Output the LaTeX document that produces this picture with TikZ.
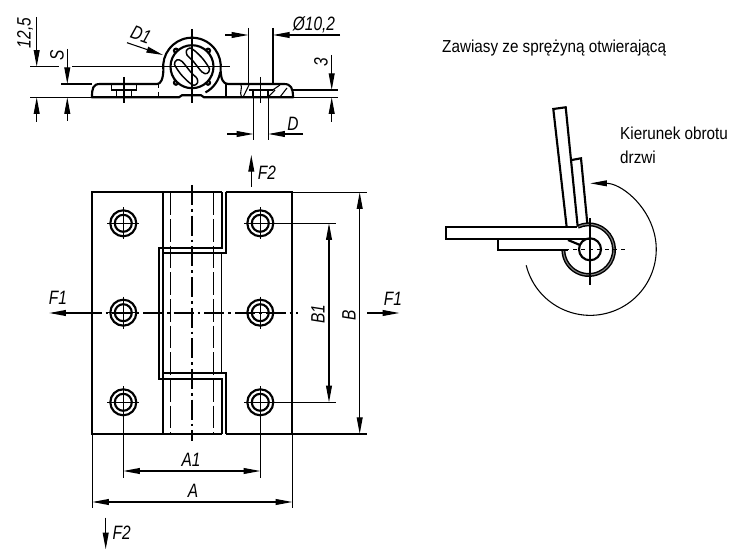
\documentclass[tikz,border=0pt]{standalone}
\usepackage{fontspec}
\setmainfont{Liberation Sans}
\usetikzlibrary{arrows.meta}
\tikzset{
  heavy/.style={line width=1.6pt},
  thin line/.style={line width=0.8pt},
  centre/.style={line width=0.8pt,dash pattern=on 15pt off 3pt on 2pt off 3pt},
  hidden/.style={line width=0.8pt,dash pattern=on 17pt off 3pt},
  dimtip/.tip={Triangle[length=12.5pt,width=4.4pt]},
  dimtext/.style={font=\fontsize{14.5}{15}\selectfont\itshape,inner sep=0pt,xscale=.8,transform shape},
  plaintext/.style={font=\fontsize{13}{15}\selectfont,inner sep=0pt,anchor=west,xscale=.88,transform shape},
}
\begin{document}
\begin{tikzpicture}[x=0.75pt,y=-0.75pt]
    \useasboundingbox (0,0) rectangle (750,552);
    % top view
    \draw[heavy,line join=round] (157,84) .. controls (161,84) and (163,79) .. (163.4,70) arc[start angle=187,end angle=-7,radius=21.6pt] .. controls (221,79) and (223,84) .. (228,84) -- (284,84) .. controls (291,84) and (293,88) .. (293,97.3) -- (204,97.3) -- (201,95.2) -- (182,95.2) -- (179,97.3) -- (92,97.3) .. controls (92,88) and (93,84) .. (100,84) -- (157,84);
    \draw[heavy] (220.3,72) arc[start angle=-10,end angle=-62,radius=21.6pt];
    \foreach \ang in {45,135,225,315}
        \draw[heavy] (192,66.7) ++(\ang:17pt and -17pt) circle[radius=2];
    \draw[heavy,fill=white] (192,66.7) circle[radius=21.5];
    \foreach \ang in {0,180}
        \draw[line width=1.1pt,rotate around={\ang:(192,66.7)}] plot[smooth cycle] coordinates {(186.5,50.5) (190,48) (195,51) (203,59) (209.5,69) (207,73.5) (202,72) (193,61) (187,55)};
    \draw[thin line] (192,29) -- (192,103);
    \draw[thin line] (72,66.7) -- (230,66.7);
    \draw[thin line] (30,66.7) -- (59,66.7);
    \draw[thin line] (30,97.3) -- (92,97.3);
    \draw[thin line] (61,84) -- (92,84);
    \draw[thin line,dashed] (158.7,84) -- (158.7,97);
    \draw[heavy] (225.7,84) -- (225.7,97);
    % left screw
    \draw[thin line] (111.7,85) -- (111.7,90) -- (116.7,90) -- (116.7,97) (131.7,97) -- (131.7,90) -- (136.7,90) -- (136.7,85);
    \draw[thin line] (111.7,90) -- (136.7,90);
    \draw[thin line] (124,77) -- (124,103);
    % right screw
    \draw[thin line] (240.7,84) .. controls (243,88) and (239,92) .. (241.5,97);
    \draw[heavy] (249,90) -- (272.7,90);
    \draw[heavy] (253.3,90) -- (253.3,97) (268.3,90) -- (268.3,97);
    \draw[thin line] (243.3,96.7) -- (249,85) (268.3,97) -- (275,90) (272.7,90) -- (280,85) (280,97) -- (287,88);
    \draw[thin line] (260.7,77) -- (260.7,103);
    \draw[thin line] (293,90) -- (338,90) (293,97.3) -- (338,97.3);
    \draw[thin line] (248.3,28) -- (248.3,84) (273,28) -- (273,84);
    \draw[thin line] (253.3,97) -- (253.3,140) (268.3,97) -- (268.3,140);
    % dimensions of the top view
    \draw[thin line,-dimtip] (36.7,17) -- (36.7,66.7);
    \draw[thin line,-dimtip] (36.7,122) -- (36.7,97.3);
    \draw[thin line,-dimtip] (67.3,49) -- (67.3,84);
    \draw[thin line,-dimtip] (67.3,121) -- (67.3,97.3);
    \draw[thin line,-dimtip] (225,35) -- (248.3,35);
    \draw[thin line,-dimtip] (340,35) -- (273,35);
    \draw[thin line,-dimtip] (331.7,55) -- (331.7,90);
    \draw[thin line,-dimtip] (331.7,121.7) -- (331.7,97.3);
    \draw[thin line,-dimtip] (227,134) -- (253.3,134);
    \draw[thin line,-dimtip] (303,134) -- (268.3,134);
    \draw[thin line,-dimtip] (127,42.7) -- (163,55);
    \node[rotate=90,dimtext] (labelH) at (25,33) {12,5};
    \node[rotate=90,dimtext] (labelS) at (57,55) {S};
    \node[rotate=90,dimtext] (labelThree) at (321,62) {3};
    \node[rotate=-20,dimtext] (labelDa) at (141,35) {D1};
    \node[dimtext] (labelBore) at (314,25) {Ø10,2};
    \node[dimtext] (labelD) at (293,124) {D};
    % front view
    \draw[heavy] (221.7,192.3) -- (92.3,192.3) -- (92.3,434) -- (221.7,434);
    \draw[heavy] (225.7,192.3) -- (292.3,192.3) -- (292.3,434) -- (225.7,434);
    \draw[heavy] (162.7,192.3) -- (162.7,252.7) -- (225.7,252.7) -- (225.7,192.3);
    \draw[heavy] (221.7,192.3) -- (221.7,248.3) -- (159,248.3) -- (159,379) -- (221.7,379) -- (221.7,434);
    \draw[heavy] (162.7,434) -- (162.7,373.3) -- (225.7,373.3) -- (225.7,434);
    \draw[heavy] (162.7,252.7) -- (162.7,373.3);
    \draw[thin line] (221.7,252.7) -- (221.7,373.3);
    \draw[hidden] (170.7,192.3) -- (170.7,434);
    \draw[hidden] (213.3,192.3) -- (213.3,434);
    \draw[centre] (192,185) -- (192,441);
    \draw[centre] (81.7,313) -- (298,313);
    \foreach \cx in {123.3,260.3}
        \foreach \cy in {223.3,312.7,402.3} {
            \draw[heavy] (\cx,\cy) circle[radius=13];
            \draw[heavy] (\cx,\cy) circle[radius=8.5];
            \draw[thin line] (\cx-16,\cy) -- (\cx+16,\cy) (\cx,\cy-16) -- (\cx,\cy+16);
        }
    % dimensions of the front view
    \draw[thin line] (292.3,192.3) -- (366.7,192.3) (292.3,434) -- (366.7,434);
    \draw[thin line] (260.3,223.3) -- (335.7,223.3) (260.3,402.3) -- (335.7,402.3);
    \draw[thin line] (92.3,434) -- (92.3,508) (292.3,434) -- (292.3,508);
    \draw[thin line] (123.3,402.3) -- (123.3,477.7) (260.3,402.3) -- (260.3,477.7);
    \draw[thin line,dimtip-dimtip] (359.7,192.3) -- (359.7,434);
    \draw[thin line,dimtip-dimtip] (329,223.3) -- (329,402.3);
    \draw[thin line,dimtip-dimtip] (123.3,471) -- (260.3,471);
    \draw[thin line,dimtip-dimtip] (92.3,502) -- (292.3,502);
    \draw[thin line,-dimtip] (81.7,313) -- (49.3,313);
    \draw[thin line,-dimtip] (367,313) -- (399.3,313);
    \draw[thin line,-dimtip] (251.3,186.7) -- (251.3,155);
    \draw[thin line,-dimtip] (105.7,517.7) -- (105.7,549.3);
    \node[rotate=90,dimtext] (labelBa) at (318,314) {B1};
    \node[rotate=90,dimtext] (labelB) at (349,315) {B};
    \node[dimtext] (labelAa) at (191,460) {A1};
    \node[dimtext] (labelA) at (193,491) {A};
    \node[dimtext] (labelFl) at (58,298) {F1};
    \node[dimtext] (labelFr) at (393,299) {F1};
    \node[dimtext] (labelFt) at (267,173) {F2};
    \node[dimtext] (labelFb) at (121.7,532.7) {F2};
    % opening sketch
    \draw[line width=3pt] (578,226.7) arc[start angle=115,end angle=-180,radius=19pt];
    \draw[line width=.8pt,gray] (578,226.7) arc[start angle=115,end angle=-180,radius=19pt];
    \draw[heavy] (590,249.3) circle[radius=11];
    \draw[heavy] (577,227.3) -- (445.7,227.3) -- (445.7,239.3) -- (590,239.3);
    \draw[heavy] (497.7,240) -- (497.7,250) -- (568,250);
    \draw[heavy] (568,240) -- (580,245);
    \draw[heavy] (566.7,227.3) -- (553.3,109) -- (565.7,107.3) -- (577.7,226.7);
    \draw[heavy] (571.7,160) -- (581,158.3) -- (587.3,223.3);
    \draw[thin line] (590,218.3) -- (590,285);
    \draw[thin line,dashed] (565,249.3) -- (625,249.3);
    \draw[thin line,-dimtip] (526.2,265.3) arc[start angle=194,end angle=450,radius=49.5pt];
    \node[plaintext] (labelTitle) at (442,48) {Zawiasy ze sprężyną otwierającą};
    \node[plaintext] (labelTurn) at (620,133) {Kierunek obrotu};
    \node[plaintext] (labelDoor) at (620,157) {drzwi};
\end{tikzpicture}
\end{document}
